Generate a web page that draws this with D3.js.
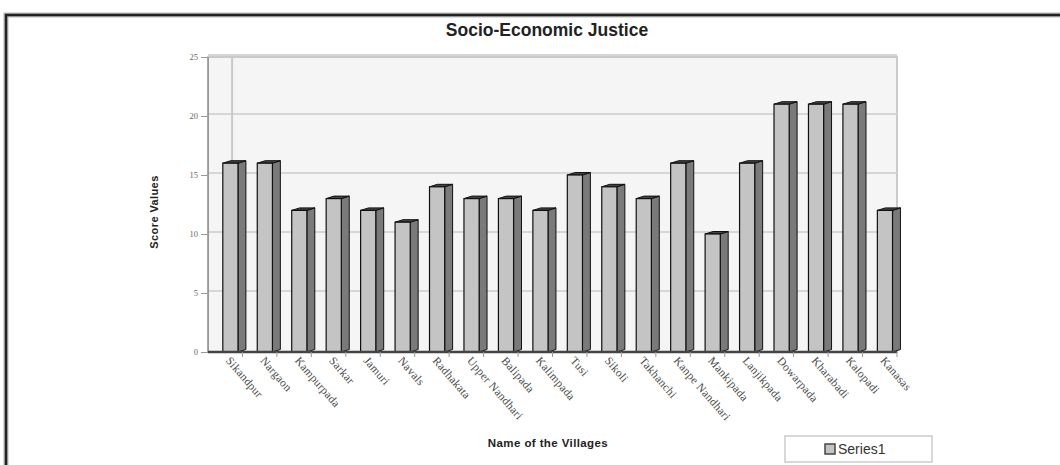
<!DOCTYPE html>
<html>
<head>
<meta charset="utf-8">
<script src="https://cdn.jsdelivr.net/npm/d3@7"></script>
<style>
  html, body { margin: 0; padding: 0; background: #fff; }
  svg { display: block; }
</style>
</head>
<body>
<svg id="chart" width="1060" height="465"></svg>
<script>
// Village names and their socio-economic justice scores
const villages = [
  "Sikandpur", "Nargaon", "Kampurpada", "Sarkar", "Jamuri", "Navals",
  "Radhakata", "Upper Nandhari", "Balipada", "Kalimpada", "Tusi", "Sikoli",
  "Takhanchi", "Kanpe Nandhari", "Mankipada", "Lanjikpada", "Dowarpada",
  "Kharabadi", "Kalopadi", "Kanasas"
];
const scores = [16, 16, 12, 13, 12, 11, 14, 13, 13, 12, 15, 14, 13, 16, 10, 16, 21, 21, 21, 12];
const yTicks = [0, 5, 10, 15, 20, 25];
const seriesName = "Series1";

const svg = d3.select("#chart");

// Outer frame (top and left edges visible)
svg.append("path")
  .attr("d", "M6,465 V15 H1060")
  .attr("fill", "none")
  .attr("stroke", "#bbb")
  .attr("stroke-width", 5);
svg.append("path")
  .attr("d", "M6,465 V15 H1060")
  .attr("fill", "none")
  .attr("stroke", "#222")
  .attr("stroke-width", 2.5);

const plot = { left: 208, right: 897, top: 57, bottom: 352 };

const x = d3.scaleBand().domain(villages).range([plot.left, plot.right]);
const y = d3.scaleLinear().domain([0, 25]).range([plot.bottom, plot.top]);

// Back wall
svg.append("rect")
  .attr("x", plot.left).attr("y", plot.top)
  .attr("width", plot.right - plot.left).attr("height", plot.bottom - plot.top)
  .attr("fill", "#f5f5f5")
  .attr("stroke", "#cacaca")
  .attr("stroke-width", 2);

// Horizontal gridlines
svg.append("g")
  .selectAll("line")
  .data(yTicks.slice(1))
  .join("line")
  .attr("x1", plot.left).attr("x2", plot.right)
  .attr("y1", d => y(d) - 2).attr("y2", d => y(d) - 2)
  .attr("stroke", "#d6d6d6")
  .attr("stroke-width", 2);

// Side wall edge
const step = x.step();
svg.append("line")
  .attr("x1", plot.left + step * 0.7).attr("x2", plot.left + step * 0.7)
  .attr("y1", plot.top).attr("y2", plot.bottom)
  .attr("stroke", "#c8c8c8").attr("stroke-width", 2);
svg.append("line")
  .attr("x1", plot.left).attr("x2", plot.left)
  .attr("y1", plot.top).attr("y2", plot.bottom)
  .attr("stroke", "#a8a8a8").attr("stroke-width", 2);

// Y axis
const yAxis = svg.append("g")
  .attr("transform", `translate(${plot.left},0)`)
  .call(d3.axisLeft(y).tickValues(yTicks).tickSize(7).tickPadding(3));
yAxis.select(".domain").attr("stroke", "#999");
yAxis.selectAll(".tick line").attr("stroke", "#999");
yAxis.selectAll(".tick text")
  .attr("fill", "#666")
  .style("font-family", "'Liberation Serif', serif")
  .style("font-size", "8.5px");

// 3D bars
const frontOff = step * 0.43, frontW = step * 0.44, depthX = step * 0.23, depthY = 2.5;
const bars = svg.append("g").selectAll("g").data(villages).join("g");
bars.each(function (name, i) {
  const g = d3.select(this);
  const x0 = x(name) + frontOff, x1 = x0 + frontW;
  const yt = y(scores[i]), yb = y(0);
  // side face
  g.append("path")
    .attr("d", `M${x1},${yt} L${x1 + depthX},${yt - depthY} L${x1 + depthX},${yb - depthY} L${x1},${yb} Z`)
    .attr("fill", "#7a7a7a").attr("stroke", "#111").attr("stroke-width", 1);
  // top face
  g.append("path")
    .attr("d", `M${x0},${yt} L${x0 + depthX},${yt - depthY} L${x1 + depthX},${yt - depthY} L${x1},${yt} Z`)
    .attr("fill", "#444").attr("stroke", "#111").attr("stroke-width", 1);
  // front face
  g.append("rect")
    .attr("x", x0).attr("y", yt).attr("width", frontW).attr("height", yb - yt)
    .attr("fill", "#c4c4c4").attr("stroke", "#111").attr("stroke-width", 1.2);
});

// Floor line
svg.append("line")
  .attr("x1", plot.left).attr("x2", plot.right)
  .attr("y1", plot.bottom).attr("y2", plot.bottom)
  .attr("stroke", "#444").attr("stroke-width", 2.5);

// X axis ticks and rotated labels
const xAxis = svg.append("g")
  .attr("transform", `translate(0,${plot.bottom})`)
  .call(d3.axisBottom(x).tickSize(5).tickSizeOuter(0));
xAxis.select(".domain").remove();
xAxis.selectAll(".tick line")
  .attr("stroke", "#999")
  .attr("transform", `translate(${step / 2},0)`);
xAxis.selectAll(".tick text")
  .attr("fill", "#4a4a4a")
  .style("font-family", "'Liberation Serif', serif")
  .style("font-size", "11.5px")
  .style("letter-spacing", "0.3px")
  .attr("text-anchor", "start")
  .attr("dy", null)
  .attr("y", 0)
  .attr("transform", "translate(0,9) rotate(49)");

// Titles
svg.append("text")
  .attr("x", 547).attr("y", 36)
  .attr("text-anchor", "middle")
  .style("font-family", "'Liberation Sans', Arial, sans-serif")
  .style("font-weight", "bold")
  .style("font-size", "17.5px")
  .attr("fill", "#222")
  .text("Socio-Economic Justice");

svg.append("text")
  .attr("transform", "translate(158,212) rotate(-90)")
  .attr("text-anchor", "middle")
  .style("font-family", "'Liberation Sans', Arial, sans-serif")
  .style("font-weight", "bold")
  .style("font-size", "11px")
  .style("letter-spacing", "0.4px")
  .attr("fill", "#222")
  .text("Score Values");

svg.append("text")
  .attr("x", 548).attr("y", 447)
  .attr("text-anchor", "middle")
  .style("font-family", "'Liberation Sans', Arial, sans-serif")
  .style("font-weight", "bold")
  .style("font-size", "11.5px")
  .style("letter-spacing", "0.4px")
  .attr("fill", "#222")
  .text("Name of the Villages");

// Legend
const legend = svg.append("g").attr("transform", "translate(785,436)");
legend.append("rect")
  .attr("width", 147).attr("height", 26)
  .attr("fill", "#fff").attr("stroke", "#ccc").attr("stroke-width", 1.5);
legend.append("rect")
  .attr("x", 40).attr("y", 8).attr("width", 10).attr("height", 10)
  .attr("fill", "#c4c4c4").attr("stroke", "#444").attr("stroke-width", 1.5);
legend.append("text")
  .attr("x", 53).attr("y", 18)
  .style("font-family", "'Liberation Sans', Arial, sans-serif")
  .style("font-size", "14px")
  .attr("fill", "#333")
  .text(seriesName);
</script>
</body>
</html>
